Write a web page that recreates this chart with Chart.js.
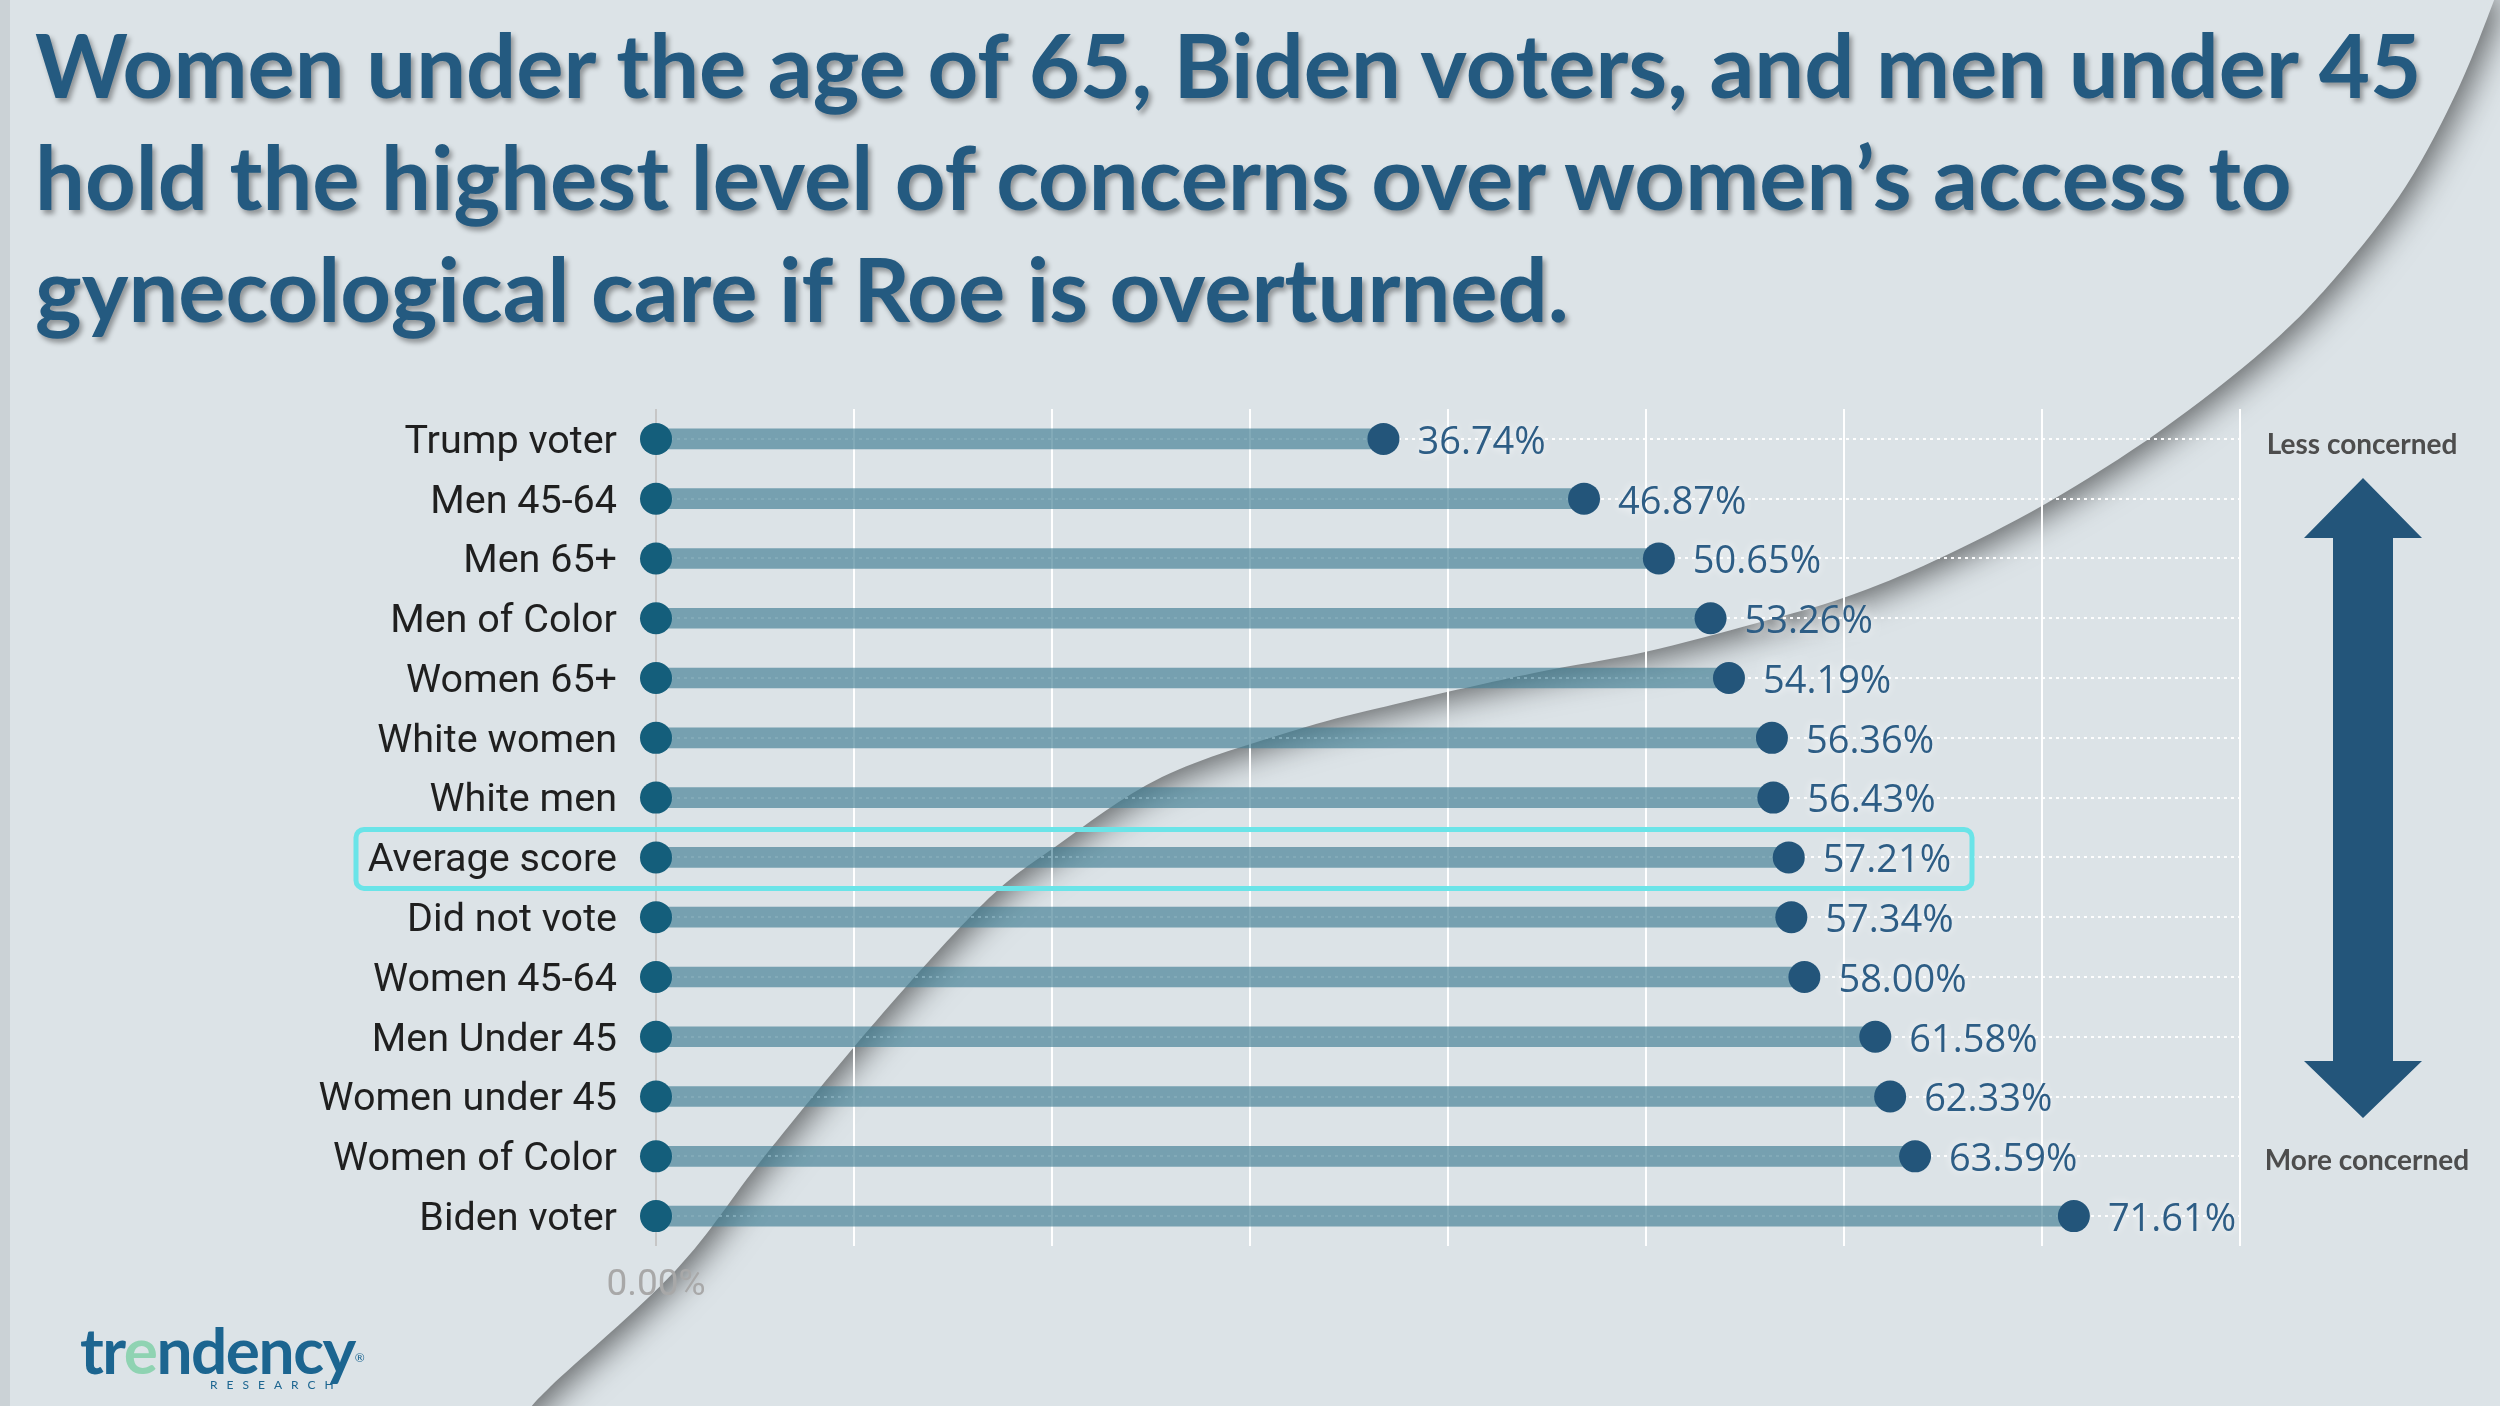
<!DOCTYPE html>
<html>
<head>
<meta charset="utf-8">
<script src="https://cdn.jsdelivr.net/npm/chart.js@4.4.1/dist/chart.umd.min.js"></script>
<style>
  html, body { margin:0; padding:0; }
  body { width:2500px; height:1406px; background:#dce3e7; position:relative; overflow:hidden; }
  .edge { position:absolute; left:0; top:0; width:10px; height:1406px; background:#cbd2d6; z-index:3; }
  #c { position:absolute; left:0; top:0; z-index:1; }
  .title { position:absolute; left:35px; top:8px; z-index:4; font-family:Lato, sans-serif; font-weight:700;
    font-size:88.5px; line-height:112px; color:#245a80; text-shadow:3px 4px 5px rgba(0,0,0,.35); white-space:nowrap; }
  .side { position:absolute; z-index:4; font-family:Lato, sans-serif; font-weight:700; font-size:28px; color:#4d4d4d;
    transform:translate(-50%,-50%); white-space:nowrap; }
  #arrow { position:absolute; left:0; top:0; z-index:4; }
  .logo { position:absolute; left:80px; top:1318px; z-index:4; font-family:Lato, sans-serif; font-weight:700;
    font-size:64px; line-height:64px; color:#1c6590; letter-spacing:-1.5px; }
  .logo .e { color:#8fd3b2; }
  .logo sup { font-size:12px; vertical-align:top; position:relative; top:8px; font-weight:400; }
  .logo .sub { position:absolute; left:130px; top:60px; font-size:12px; letter-spacing:9px; font-weight:400; line-height:14px; }
</style>
</head>
<body>
<div class="edge"></div>
<div class="title">Women under the age of 65, Biden voters, and men under 45<br>hold the highest level of concerns over women’s access to<br>gynecological care if Roe is overturned.</div>
<canvas id="c" width="2500" height="1406"></canvas>
<svg id="arrow" width="2500" height="1406">
  <polygon fill="#23557a" points="2363,478 2422,538 2393,538 2393,1061 2422,1061 2363,1118 2304,1061 2333,1061 2333,538 2304,538"/>
</svg>
<div class="side" style="left:2362px;top:443px">Less concerned</div>
<div class="side" style="left:2367px;top:1159px">More concerned</div>
<div class="logo">tr<span class="e">e</span>ndency<sup>®</sup><div class="sub">RESEARCH</div></div>
<script>
const groups = ['Trump voter','Men 45-64','Men 65+','Men of Color','Women 65+','White women','White men',
  'Average score','Did not vote','Women 45-64','Men Under 45','Women under 45','Women of Color','Biden voter'];
const concern = [36.74, 46.87, 50.65, 53.26, 54.19, 56.36, 56.43, 57.21, 57.34, 58.00, 61.58, 62.33, 63.59, 71.61];
const baseline = 0;
const highlight = 'Average score';
const xTicks = { min: 0, max: 80, step: 10 };

const BG = '#dce3e7';
// edge of the curled page (background decoration, pixels)
const curlEdge = [[2498,-10],[2459,87],[2406,186],[2336,277],[2266,348],[2160,431],[2047,503],[1936,560],
  [1846,597],[1757,623],[1645,652],[1534,673],[1400,703],[1296,730],[1162,777],[1055,847],[984,903],
  [877,1020],[764,1157],[676,1270],[550,1387],[525,1416]];

const curlPlugin = {
  id: 'curl',
  beforeDraw(chart) {
    const ctx = chart.ctx;
    const p = curlEdge;
    ctx.save();
    ctx.beginPath();
    ctx.moveTo(0, -10);
    ctx.lineTo(p[0][0], p[0][1]);
    // catmull-rom through the edge points
    for (let i = 0; i < p.length - 1; i++) {
      const p0 = p[i - 1] || p[i], p1 = p[i], p2 = p[i + 1], p3 = p[i + 2] || p2;
      ctx.bezierCurveTo(p1[0] + (p2[0] - p0[0]) / 6, p1[1] + (p2[1] - p0[1]) / 6,
                        p2[0] - (p3[0] - p1[0]) / 6, p2[1] - (p3[1] - p1[1]) / 6, p2[0], p2[1]);
    }
    ctx.lineTo(-10, 1416);
    ctx.closePath();
    ctx.shadowColor = 'rgba(0,0,0,0.55)';
    ctx.shadowBlur = 32;
    ctx.shadowOffsetX = 7;
    ctx.shadowOffsetY = 7;
    ctx.fillStyle = BG;
    ctx.fill();
    ctx.restore();
  }
};

// highlight box + value labels
const labelPlugin = {
  id: 'labels',
  afterDatasetsDraw(chart) {
    const ctx = chart.ctx;
    const y = chart.scales.y;
    const hi = y.getPixelForValue(groups.indexOf(highlight));
    ctx.save();
    ctx.strokeStyle = '#6ae4e8';
    ctx.lineWidth = 5;
    ctx.beginPath();
    ctx.roundRect(356, hi - 28, 1616, 59, 8);
    ctx.stroke();

    const meta = chart.getDatasetMeta(0);
    ctx.font = '38px "Open Sans"';
    ctx.fillStyle = '#2d5d85';
    ctx.textBaseline = 'middle';
    ctx.textAlign = 'left';
    ctx.shadowColor = 'rgba(255,255,255,0.9)';
    ctx.shadowBlur = 8;
    meta.data.forEach((pt, i) => {
      ctx.fillText(concern[i].toFixed(2) + '%', pt.x + 34, pt.y + 4);
    });
    ctx.restore();
  }
};

new Chart(document.getElementById('c'), {
  type: 'bar',
  data: {
    labels: groups,
    datasets: [{
      type: 'scatter',
      data: groups.map((g, i) => ({ x: concern[i], y: g })),
      pointRadius: 16, pointHoverRadius: 16,
      backgroundColor: '#23557a', borderWidth: 0, clip: false
    },{
      type: 'scatter',
      data: groups.map(g => ({ x: baseline, y: g })),
      pointRadius: 16, pointHoverRadius: 16,
      backgroundColor: '#145e7b', borderWidth: 0, clip: false
    },{
      data: concern,
      backgroundColor: 'rgba(63,124,146,0.65)',
      barThickness: 20
    }]
  },
  options: {
    indexAxis: 'y',
    responsive: false,
    animation: false,
    devicePixelRatio: 1,
    layout: { padding: { left: 0, right: 260, top: 409, bottom: 100 } },
    plugins: { legend: { display: false }, tooltip: { enabled: false } },
    scales: {
      x: {
        type: 'linear', min: xTicks.min, max: xTicks.max,
        afterFit: s => { s.height = 60; },
        ticks: { stepSize: xTicks.step, padding: 18, color: '#a8a8a8', font: { family: 'Roboto', size: 37 },
          callback: v => v === 0 ? '0.00%' : '' },
        grid: { color: c => c.tick && c.tick.value === 0 ? '#c6c6c6' : '#ffffff', lineWidth: 2, drawTicks: false },
        border: { display: false }
      },
      y: {
        type: 'category', labels: groups,
        afterFit: s => { s.width = 656; },
        ticks: { padding: 39, labelOffset: 4, color: '#1f1f1f', font: { family: 'Roboto', size: 39.5 } },
        grid: { offset: false, color: 'rgba(255,255,255,0.95)', lineWidth: 2, drawTicks: false },
        border: { display: false, dash: [3, 4] }
      }
    }
  },
  plugins: [curlPlugin, labelPlugin]
});
</script>
</body>
</html>
